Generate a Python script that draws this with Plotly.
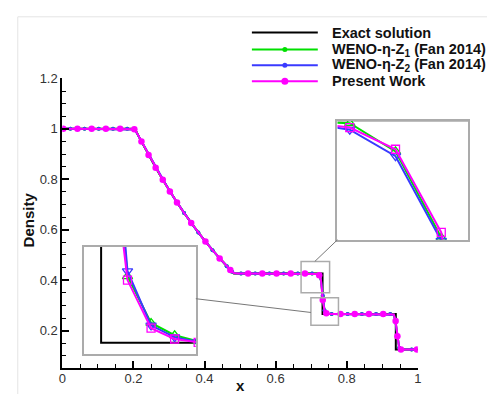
import math
import plotly.graph_objects as go

# ---------------- data ----------------
x_exact = [0.0, 0.2042, 0.22, 0.24, 0.26, 0.28, 0.30, 0.32, 0.34, 0.36, 0.38, 0.40,
           0.42, 0.44, 0.46, 0.4824, 0.7319, 0.7319, 0.9380, 0.9380, 1.0]
rho_exact = [1.0, 1.0, 0.9562, 0.9031, 0.8524, 0.8039, 0.7577, 0.7137, 0.6717, 0.6317, 0.5936, 0.5575,
             0.5230, 0.4903, 0.4593, 0.4263, 0.4263, 0.2656, 0.2656, 0.1250, 0.1250]

x_num = [0.0025, 0.0225, 0.0425, 0.0625, 0.0825, 0.1025, 0.1225, 0.1425, 0.1625, 0.1825,
         0.1925, 0.1975, 0.2025, 0.2075, 0.2125,
         0.2225, 0.2425, 0.2625, 0.2825, 0.3025, 0.3225, 0.3425, 0.3625, 0.3825, 0.4025, 0.4225, 0.4425, 0.4625,
         0.4725, 0.4775, 0.4825, 0.4875, 0.4925,
         0.5025, 0.5225, 0.5425, 0.5625, 0.5825, 0.6025, 0.6225, 0.6425, 0.6625, 0.6825, 0.7025,
         0.7125, 0.7175, 0.7225, 0.7275, 0.7325, 0.7375, 0.7425, 0.7475, 0.7525, 0.7575, 0.7625,
         0.7825, 0.8025, 0.8225, 0.8425, 0.8625, 0.8825, 0.9025, 0.9225,
         0.9275, 0.9325, 0.9375, 0.9425, 0.9475, 0.9525,
         0.9625, 0.9825, 0.9975]

rho_z1 = [1.0, 1.0, 1.0, 1.0, 1.0, 1.0, 1.0, 1.0, 1.0, 1.0,
          1.0, 0.9999, 0.9980, 0.9885, 0.9758,
          0.9495, 0.8967, 0.8462, 0.7980, 0.7521, 0.7083, 0.6665, 0.6268, 0.5890, 0.5530, 0.5188, 0.4863, 0.4556,
          0.4407, 0.4333, 0.4285, 0.4270, 0.4265,
          0.4263, 0.4263, 0.4263, 0.4263, 0.4263, 0.4263, 0.4263, 0.4263, 0.4263, 0.4263, 0.4263,
          0.4260, 0.4256, 0.4191, 0.3992, 0.3350, 0.2797, 0.2698, 0.2672, 0.2659, 0.2657, 0.2656,
          0.2656, 0.2656, 0.2656, 0.2656, 0.2656, 0.2656, 0.2656, 0.2656,
          0.2654, 0.2635, 0.2330, 0.1800, 0.1320, 0.1258,
          0.1250, 0.1250, 0.1250]

rho_z2 = [1.0, 1.0, 1.0, 1.0, 1.0, 1.0, 1.0, 1.0, 1.0, 1.0,
          1.0, 0.9999, 0.9978, 0.9882, 0.9757,
          0.9495, 0.8967, 0.8462, 0.7980, 0.7521, 0.7083, 0.6665, 0.6268, 0.5890, 0.5530, 0.5188, 0.4863, 0.4556,
          0.4408, 0.4335, 0.4287, 0.4271, 0.4265,
          0.4263, 0.4263, 0.4263, 0.4263, 0.4263, 0.4263, 0.4263, 0.4263, 0.4263, 0.4263, 0.4263,
          0.4258, 0.4241, 0.4180, 0.3985, 0.3400, 0.2808, 0.2693, 0.2668, 0.2658, 0.2657, 0.2656,
          0.2656, 0.2656, 0.2656, 0.2656, 0.2656, 0.2656, 0.2656, 0.2656,
          0.2653, 0.2632, 0.2320, 0.1810, 0.1325, 0.1260,
          0.1250, 0.1250, 0.1250]

rho_present = [1.0, 1.0, 1.0, 1.0, 1.0, 1.0, 1.0, 1.0, 1.0, 1.0,
               1.0, 0.9999, 0.9985, 0.9890, 0.9760,
               0.9495, 0.8967, 0.8462, 0.7980, 0.7521, 0.7083, 0.6665, 0.6268, 0.5890, 0.5530, 0.5188, 0.4863, 0.4555,
               0.4405, 0.4330, 0.4282, 0.4268, 0.4264,
               0.4263, 0.4263, 0.4263, 0.4263, 0.4263, 0.4263, 0.4263, 0.4263, 0.4263, 0.4263, 0.4263,
               0.4259, 0.4246, 0.4196, 0.4004, 0.3214, 0.2789, 0.2687, 0.2664, 0.2657, 0.2656, 0.2656,
               0.2656, 0.2656, 0.2656, 0.2656, 0.2656, 0.2656, 0.2656, 0.2656,
               0.2655, 0.2640, 0.2380, 0.1780, 0.1300, 0.1253,
               0.1250, 0.1250, 0.1250]

x_ticks = [0, 0.2, 0.4, 0.6, 0.8, 1]
y_ticks = [0.2, 0.4, 0.6, 0.8, 1, 1.2]

legend_labels = ["Exact solution", "WENO-\u03b7-Z<sub>1</sub> (Fan 2014)",
                 "WENO-\u03b7-Z<sub>2</sub> (Fan 2014)", "Present Work"]

# ---------------- layout geometry ----------------
W, H = 491, 394
L, R, T, B = 59.3, 420.7, 72.7, 368.0          # main plot box in px
XR = [0.0, 1.0]
YR = [0.05, 1.2]
PX = (R - L) / (XR[1] - XR[0])
PY = (B - T) / (YR[1] - YR[0])


def to_data(px, py):
    return XR[0] + (px - L) / PX, YR[1] - (py - T) / PY


def dom_x(a, b):
    return [a / W, b / W]


def dom_y(top, bot):
    return [1 - bot / H, 1 - top / H]


def marker_subset(xs, ys, dmin, skip_first=0):
    idx, last = [], None
    for i, (a, b) in enumerate(zip(xs, ys)):
        p = (a * PX, b * PY)
        if i < skip_first:
            continue
        if last is None or math.hypot(p[0] - last[0], p[1] - last[1]) >= dmin:
            idx.append(i)
            last = p
    return [xs[i] for i in idx], [ys[i] for i in idx]


C_EX, C_G, C_B, C_M = "black", "#00e000", "#3a3aff", "#ff00ff"
FONT = "Liberation Sans, Arial, sans-serif"

fig = go.Figure()

# ---------------- main plot ----------------
fig.add_trace(go.Scatter(x=x_exact, y=rho_exact, mode="lines",
                         line=dict(color=C_EX, width=2), xaxis="x", yaxis="y"))
series = [(rho_z1, C_G, 4, 7, 1), (rho_z2, C_B, 4, 7, 0), (rho_present, C_M, 6.5, 13, 0)]
for ys, col, msz, dmin, sk in series:
    fig.add_trace(go.Scatter(x=x_num, y=ys, mode="lines", line=dict(color=col, width=2),
                             xaxis="x", yaxis="y"))
    mx, my = marker_subset(x_num, ys, dmin, sk)
    fig.add_trace(go.Scatter(x=mx, y=my, mode="markers",
                             marker=dict(color=col, size=msz, symbol="circle", line=dict(width=0)),
                             xaxis="x", yaxis="y"))

# ---------------- insets ----------------
inset_styles = [(rho_z1, C_G, "triangle-up-open", 9),
                (rho_z2, C_B, "triangle-down-open", 9),
                (rho_present, C_M, "square-open", 8)]
for xa, ya in (("x2", "y2"), ("x3", "y3")):
    fig.add_trace(go.Scatter(x=x_exact, y=rho_exact, mode="lines",
                             line=dict(color=C_EX, width=2), xaxis=xa, yaxis=ya))
    for ys, col, sym, sz in inset_styles:
        fig.add_trace(go.Scatter(x=x_num, y=ys, mode="lines+markers",
                                 line=dict(color=col, width=2),
                                 marker=dict(symbol=sym, size=sz, color=col, line=dict(width=1.3, color=col)),
                                 xaxis=xa, yaxis=ya))

inset_ax = dict(showticklabels=False, ticks="", showline=True, mirror=True, linecolor="#ababab",
                linewidth=1.5, showgrid=False, zeroline=False)

main_ax = dict(showline=True, linecolor="black", linewidth=2, ticks="inside", ticklen=7, tickwidth=1.5,
               tickcolor="black", showgrid=False, zeroline=False, mirror=False,
               tickfont=dict(family=FONT, size=13, color="#333333"),
               minor=dict(ticks="inside", ticklen=4, tickwidth=1, tickcolor="black"))

fig.update_layout(
    width=W, height=H, margin=dict(l=0, r=0, t=0, b=0),
    paper_bgcolor="white", plot_bgcolor="white", showlegend=False,
    font=dict(family=FONT, size=13, color="#222222"),
    xaxis=dict(main_ax, domain=dom_x(L, R), range=XR, tickvals=x_ticks,
               ticktext=[f"{v:g}" for v in x_ticks], anchor="y", ticklabelstandoff=-3,
               minor=dict(main_ax["minor"], dtick=0.05, tick0=0)),
    yaxis=dict(main_ax, domain=dom_y(T, B), range=YR, tickvals=y_ticks,
               ticktext=[f"{v:g}" for v in y_ticks], anchor="x",
               minor=dict(main_ax["minor"], dtick=0.05, tick0=0)),
    xaxis2=dict(inset_ax, domain=dom_x(339, 472), range=[0.716156, 0.730457], anchor="y2"),
    yaxis2=dict(inset_ax, domain=dom_y(115.7, 237), range=[0.3987, 0.4262], anchor="x2"),
    xaxis3=dict(inset_ax, domain=dom_x(81, 195), range=[0.7282, 0.7520], anchor="y3"),
    yaxis3=dict(inset_ax, domain=dom_y(244, 353), range=[0.26328, 0.28599], anchor="x3"),
)

shapes = []
# zoom windows on the main plot
for (x0, y0, x1, y1) in ((302, 259, 331, 291), (312, 296, 340, 324)):
    a0, b0 = to_data(x0, y1)
    a1, b1 = to_data(x1, y0)
    shapes.append(dict(type="rect", xref="x", yref="y", x0=a0, y0=b0, x1=a1, y1=b1,
                       line=dict(color="#ababab", width=1.5), fillcolor="rgba(0,0,0,0)"))
# connector lines
for (p0, p1) in (((316, 259), (339, 237)), ((312, 311), (195, 297))):
    a0, b0 = to_data(*p0)
    a1, b1 = to_data(*p1)
    shapes.append(dict(type="line", xref="x", yref="y", x0=a0, y0=b0, x1=a1, y1=b1,
                       line=dict(color="#777777", width=1)))
# faint frame of the original picture
shapes.append(dict(type="line", xref="paper", yref="paper", x0=14 / W, x1=1, y0=1 - 10 / H, y1=1 - 10 / H,
                   line=dict(color="#e4e4e4", width=1)))
shapes.append(dict(type="line", xref="paper", yref="paper", x0=14 / W, x1=14 / W, y0=0, y1=1 - 10 / H,
                   line=dict(color="#e4e4e4", width=1)))

# legend (drawn by hand so the line samples have the original length)
leg_rows = [26.0, 43.3, 59.3, 75.7]
leg_cols = [C_EX, C_G, C_B, C_M]
leg_dot = [0, 5, 5, 7]
annotations = []
for yy, col, dsz, lab in zip(leg_rows, leg_cols, leg_dot, legend_labels):
    shapes.append(dict(type="line", xref="paper", yref="paper", x0=252 / W, x1=319 / W,
                       y0=1 - yy / H, y1=1 - yy / H, line=dict(color=col, width=2)))
    if dsz:
        shapes.append(dict(type="circle", xref="paper", yref="paper", xsizemode="pixel", ysizemode="pixel",
                           xanchor=285.5 / W, yanchor=1 - yy / H, x0=-dsz / 2, x1=dsz / 2,
                           y0=-dsz / 2, y1=dsz / 2, fillcolor=col, line=dict(color=col, width=0)))
    annotations.append(dict(text=f"<b>{lab}</b>", xref="paper", yref="paper", x=331 / W, y=1 - yy / H,
                            xanchor="left", yanchor="middle", showarrow=False,
                            font=dict(family=FONT, size=14.5, color="#111111")))

# axis titles
annotations.append(dict(text="<b>x</b>", xref="paper", yref="paper", x=240 / W, y=1 - 385 / H,
                        xanchor="center", yanchor="middle", showarrow=False,
                        font=dict(family=FONT, size=15, color="#111111")))
annotations.append(dict(text="<b>Density</b>", xref="paper", yref="paper", x=25 / W, y=1 - 216.7 / H,
                        xanchor="center", yanchor="middle", showarrow=False, textangle=-90,
                        font=dict(family=FONT, size=15, color="#111111")))

fig.update_layout(shapes=shapes, annotations=annotations)

fig.write_html("out.html", config={"displayModeBar": False},
               post_script="document.body.style.margin='0';document.body.style.overflow='hidden';")
